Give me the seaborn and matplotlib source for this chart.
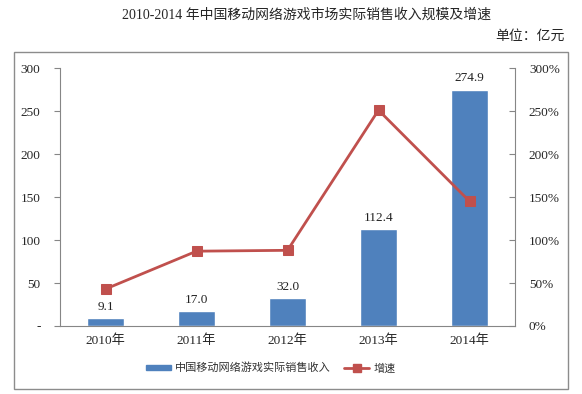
import numpy as np
import seaborn as sns
import matplotlib.pyplot as plt
from matplotlib.patches import Rectangle, Patch
from matplotlib.lines import Line2D

# data
years = ['2010年', '2011年', '2012年', '2013年', '2014年']
revenue = [9.1, 17.0, 32.0, 112.4, 274.9]      # 亿元
growth = [43, 87, 88, 251, 145]                # %
left_ticks = [0, 50, 100, 150, 200, 250, 300]
left_labels = ['-', '50', '100', '150', '200', '250', '300']
right_ticks = [0, 50, 100, 150, 200, 250, 300]
right_labels = ['0%', '50%', '100%', '150%', '200%', '250%', '300%']

bar_col = '#4F81BD'
line_col = '#C0504D'
grey = '#868686'

sns.set_style('white')
plt.rcParams['font.family'] = ['Liberation Serif', 'Noto Sans CJK SC']

fig = plt.figure(figsize=(5.82, 3.94), dpi=100)
ax = fig.add_axes([60 / 582, 1 - 326 / 394, 455 / 582, 258 / 394])

sns.barplot(x=years, y=revenue, ax=ax, color=bar_col, width=0.4, saturation=1)
ax.bar_label(ax.containers[0], labels=[f'{v:.1f}' for v in revenue],
             padding=4, fontsize=9.5, color='#222222')

ax.set_ylim(0, 300)
ax.set_xlim(-0.5, 4.5)
ax.set_yticks(left_ticks)
ax.set_yticklabels(left_labels, fontsize=9.5)
ax.set_xticks(range(len(years)))
ax.set_xticklabels(years, fontsize=9.5)
ax.set_xticks(np.arange(-0.5, 5, 1), minor=True)
ax.tick_params(axis='x', which='major', length=0, pad=6)
ax.tick_params(axis='x', which='minor', length=4, color=grey, direction='out')
ax.tick_params(axis='y', length=4, color=grey, direction='out', left=True, pad=10)
ax.set_xlabel('')
ax.set_ylabel('')
for s in ['top', 'right']:
    ax.spines[s].set_visible(False)
for s in ['left', 'bottom']:
    ax.spines[s].set_color(grey)
    ax.spines[s].set_linewidth(0.8)

ax2 = ax.twinx()
sns.lineplot(x=np.arange(len(years)), y=growth, ax=ax2, color=line_col,
             linewidth=2, marker='s', markersize=7, markeredgecolor=line_col)
ax2.set_ylim(0, 300)
ax2.set_yticks(right_ticks)
ax2.set_yticklabels(right_labels, fontsize=9.5)
ax2.tick_params(axis='y', length=4, color=grey, direction='in', right=True, pad=10)
ax2.set_ylabel('')
for s in ['top', 'left', 'bottom']:
    ax2.spines[s].set_visible(False)
ax2.spines['right'].set_color(grey)
ax2.spines['right'].set_linewidth(0.8)

handles = [Patch(facecolor=bar_col, edgecolor=bar_col),
           Line2D([], [], color=line_col, linewidth=2, marker='s', markersize=6)]
fig.legend(handles, ['中国移动网络游戏实际销售收入', '增速'], loc='center',
           bbox_to_anchor=(271 / 582, 1 - 368 / 394), ncol=2, frameon=False,
           prop={'family': 'Noto Sans CJK SC', 'size': 8}, labelcolor='#333333',
           handlelength=2.2, handleheight=0.35, handletextpad=0.4,
           columnspacing=1.2)

fig.text(307 / 582, 1 - 15 / 394, '2010-2014 年中国移动网络游戏市场实际销售收入规模及增速',
         ha='center', va='center', fontsize=10)
fig.text(565 / 582, 1 - 36 / 394, '单位：亿元', ha='right', va='center',
         fontsize=10, family=['Noto Sans CJK SC'])

fig.patches.append(Rectangle((14 / 582, 1 - 389 / 394), 554 / 582, 337 / 394,
                             transform=fig.transFigure, fill=False,
                             edgecolor='#8C8C8C', linewidth=1))

fig.savefig('out.png', dpi=100)
